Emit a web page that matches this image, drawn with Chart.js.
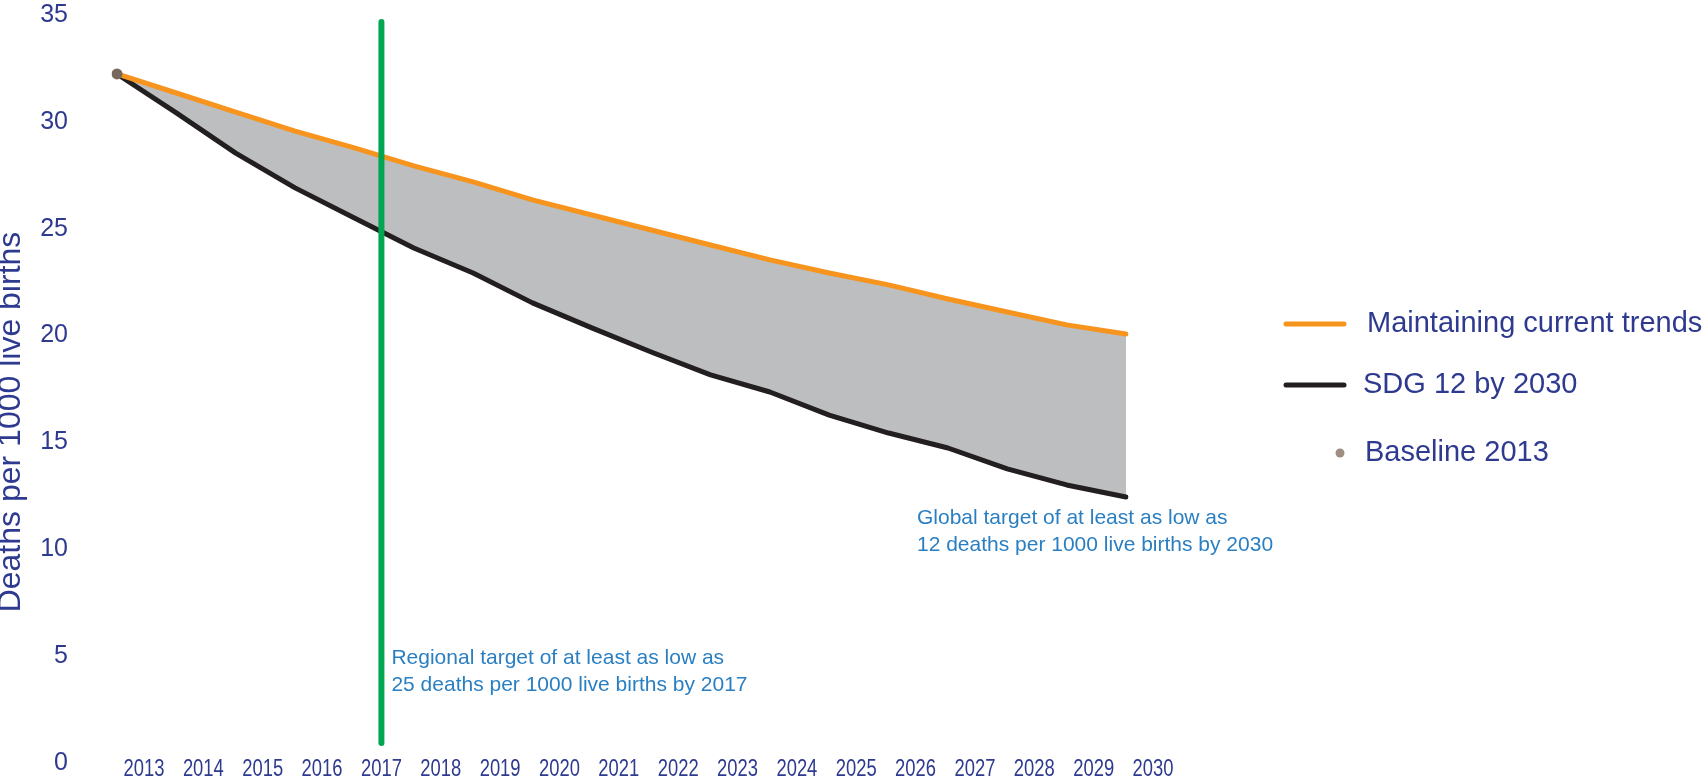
<!DOCTYPE html>
<html>
<head>
<meta charset="utf-8">
<script src="https://cdn.jsdelivr.net/npm/chart.js@4.4.1/dist/chart.umd.min.js"></script>
<style>
  html, body { margin: 0; padding: 0; background: #ffffff; }
  #wrap { width: 1704px; height: 782px; position: relative; }
</style>
</head>
<body>
<div id="wrap"><canvas id="chart" width="1704" height="782"></canvas></div>
<script>
// Neonatal mortality projections, deaths per 1000 live births
const years = ['2013', '2014', '2015', '2016', '2017', '2018', '2019', '2020', '2021',
               '2022', '2023', '2024', '2025', '2026', '2027', '2028', '2029', '2030'];
const currentTrends = [32.24, 31.35, 30.46, 29.57, 28.78, 27.94, 27.19, 26.35, 25.64,
                       24.94, 24.24, 23.54, 22.93, 22.37, 21.71, 21.10, 20.50, 20.07];
const sdgPath = [32.24, 30.42, 28.54, 26.91, 25.50, 24.10, 22.93, 21.53, 20.36,
                 19.23, 18.16, 17.36, 16.28, 15.44, 14.74, 13.76, 13.01, 12.45];
const baseline = [32.24, null, null, null, null, null, null, null, null,
                  null, null, null, null, null, null, null, null, null];
const yTicks = [0, 5, 10, 15, 20, 25, 30, 35];

// Regional target marker (vertical bar at the 2017 label)
const regionalTargetYear = '2017';
const regionalBarSpan = [0.94, 34.67];

const regionalNote = ['Regional target of at least as low as', '25 deaths per 1000 live births by 2017'];
const globalNote = ['Global target of at least as low as', '12 deaths per 1000 live births by 2030'];
const axisTitle = 'Deaths per 1000 live births';

const NAVY = '#2e3a8f';
const NOTE_BLUE = '#2a7fc2';
const ORANGE = '#f7941d';
const BLACK = '#231f20';
const GREEN = '#00a651';
const FILL_GREY = '#bcbec0';
const LABEL_SHIFT = 27;   // year labels sit slightly right of their data points

Chart.defaults.font.family = '"Liberation Sans", Arial, sans-serif';

const overlay = {
  id: 'overlay',
  afterDatasetsDraw(chart) {
    const { ctx, scales: { x, y } } = chart;
    const gx = x.getPixelForValue(years.indexOf(regionalTargetYear)) + LABEL_SHIFT;
    ctx.save();

    // green target bar
    ctx.strokeStyle = GREEN;
    ctx.lineWidth = 6;
    ctx.lineCap = 'round';
    ctx.beginPath();
    ctx.moveTo(gx, y.getPixelForValue(regionalBarSpan[0]));
    ctx.lineTo(gx, y.getPixelForValue(regionalBarSpan[1]));
    ctx.stroke();

    // condensed year labels along the bottom
    ctx.fillStyle = NAVY;
    ctx.font = '23px "Liberation Sans", Arial, sans-serif';
    ctx.textAlign = 'center';
    ctx.textBaseline = 'middle';
    years.forEach((yr, i) => {
      const px = x.getPixelForTick(i) + LABEL_SHIFT;
      ctx.save();
      ctx.translate(px, y.bottom + 7);
      ctx.scale(0.8, 1);
      ctx.fillText(yr, 0, 0);
      ctx.restore();
    });

    // notes
    ctx.fillStyle = NOTE_BLUE;
    ctx.font = '21px "Liberation Sans", Arial, sans-serif';
    ctx.textAlign = 'left';
    regionalNote.forEach((t, i) => ctx.fillText(t, gx + 10, 658 + i * 27));
    const endX = x.getPixelForValue(years.length - 1);
    globalNote.forEach((t, i) => ctx.fillText(t, endX - 209, 518 + i * 27));

    // y-axis title
    ctx.save();
    ctx.fillStyle = NAVY;
    ctx.font = '32px "Liberation Sans", Arial, sans-serif';
    ctx.textAlign = 'center';
    ctx.translate(11, 422);
    ctx.rotate(-Math.PI / 2);
    ctx.fillText(axisTitle, 0, 0);
    ctx.restore();

    // legend
    ctx.font = '29px "Liberation Sans", Arial, sans-serif';
    ctx.textAlign = 'left';
    const ds = chart.data.datasets;
    const rows = [
      { d: ds[0], y: 324, tx: 1367 },
      { d: ds[1], y: 385, tx: 1363 },
      { d: ds[2], y: 453, tx: 1365 }
    ];
    rows.forEach(r => {
      if (r.d.showLine === false) {
        ctx.fillStyle = '#a08e82';
        ctx.beginPath();
        ctx.arc(1340, r.y, 4.5, 0, Math.PI * 2);
        ctx.fill();
      } else {
        ctx.strokeStyle = r.d.borderColor;
        ctx.lineWidth = 5;
        ctx.lineCap = 'round';
        ctx.beginPath();
        ctx.moveTo(1286, r.y);
        ctx.lineTo(1344, r.y);
        ctx.stroke();
      }
      ctx.fillStyle = NAVY;
      ctx.fillText(r.d.label, r.tx, r.y);
    });
    ctx.restore();
  }
};

new Chart(document.getElementById('chart'), {
  type: 'line',
  data: {
    labels: years,
    datasets: [
      {
        label: 'Maintaining current trends',
        data: currentTrends,
        borderColor: ORANGE,
        backgroundColor: FILL_GREY,
        borderWidth: 5,
        borderJoinStyle: 'round',
        borderCapStyle: 'round',
        pointRadius: 0,
        tension: 0,
        fill: '+1'
      },
      {
        label: 'SDG 12 by 2030',
        data: sdgPath,
        borderColor: BLACK,
        borderWidth: 5,
        borderJoinStyle: 'round',
        borderCapStyle: 'round',
        pointRadius: 0,
        tension: 0,
        fill: false
      },
      {
        label: 'Baseline 2013',
        data: baseline,
        showLine: false,
        pointRadius: 5.5,
        pointBackgroundColor: '#76695c',
        pointBorderWidth: 0,
        borderColor: '#76695c',
        order: -1
      }
    ]
  },
  options: {
    responsive: false,
    animation: false,
    devicePixelRatio: 1,
    layout: { padding: { left: 0, right: 578, top: 15, bottom: 19 } },
    plugins: {
      legend: { display: false },
      tooltip: { enabled: false },
      filler: { drawTime: 'beforeDatasetsDraw' }
    },
    scales: {
      x: {
        type: 'category',
        offset: false,
        grid: { display: false, drawTicks: false },
        border: { display: false },
        ticks: { display: false }
      },
      y: {
        min: 0,
        max: 35,
        grid: { display: false, drawTicks: false },
        border: { display: false },
        afterBuildTicks: s => { s.ticks = yTicks.map(v => ({ value: v })); },
        afterFit: s => {
          s.width = 117;
          s.paddingTop = 15;
          s.paddingBottom = 15;
        },
        ticks: {
          padding: 49,
          color: NAVY,
          font: { size: 25, lineHeight: 1.2 }
        }
      }
    }
  },
  plugins: [overlay]
});
</script>
</body>
</html>
